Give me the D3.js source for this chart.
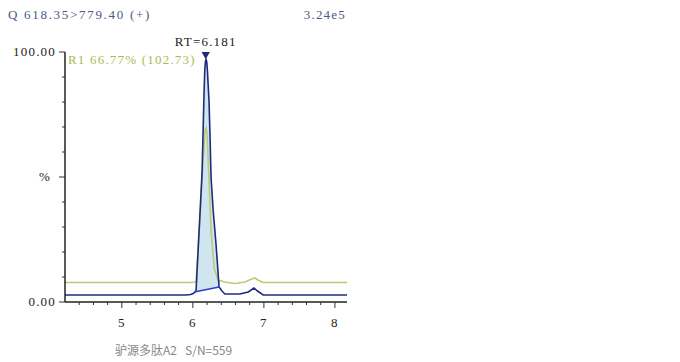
<!DOCTYPE html>
<html>
<head>
<meta charset="utf-8">
<script src="https://cdn.jsdelivr.net/npm/d3@7"></script>
<style>
  body { margin: 0; background: #fff; }
  text { font-family: "Liberation Serif", "DejaVu Serif", serif; letter-spacing: 1.2px; }
</style>
</head>
<body>
<svg width="680" height="362"></svg>
<script>
// trace for transition 618.35 > 779.40, % of 3.24e5
var blueTime = [4.2, 5.9, 5.97, 6.003, 6.045, 6.087, 6.13, 6.144, 6.158, 6.168, 6.178, 6.186, 6.196, 6.206, 6.228, 6.242, 6.256, 6.285, 6.327, 6.369, 6.41, 6.45, 6.66, 6.78, 6.86, 6.91, 6.99, 8.17];
var blueValue = [2.8, 2.8, 3.0, 3.4, 4.4, 28, 52, 68, 84, 93, 96.5, 97, 96, 92, 80, 66, 50, 37, 22.8, 6.0, 4.4, 3.2, 3.2, 4.0, 5.6, 4.4, 2.8, 2.8];

// reference ion trace (R1)
var greenTime = [4.2, 5.96, 6.045, 6.1, 6.144, 6.172, 6.186, 6.2, 6.228, 6.256, 6.3, 6.355, 6.45, 6.59, 6.735, 6.83, 6.876, 6.915, 6.99, 8.17];
var greenValue = [7.8, 7.8, 8.0, 32.8, 56.8, 68.8, 69.6, 66.8, 48.8, 28.8, 13.6, 8.8, 8.0, 7.4, 8.0, 9.2, 9.6, 8.8, 7.8, 7.8];

// integration baseline under the peak
var integTime = [6.02, 6.369];
var integValue = [4.0, 6.0];

var xTicks = [5, 6, 7, 8];
var yLabels = [{v: 100, t: "100.00"}, {v: 50, t: "%"}, {v: 0, t: "0.00"}];

var svg = d3.select("svg");

var x = d3.scaleLinear().domain([4.2, 8.17]).range([65, 347]);
var y = d3.scaleLinear().domain([0, 100]).range([302, 52]);

function pts(ts, vs) { return ts.map(function(t, i) { return [t, vs[i]]; }); }

var line = d3.line().x(function(d) { return x(d[0]); }).y(function(d) { return y(d[1]); });

// fill of integrated peak
var blue = pts(blueTime, blueValue);
var peak = blue.filter(function(d) { return d[0] >= integTime[0] && d[0] <= integTime[1]; });
var base = d3.scaleLinear().domain(integTime).range(integValue);
var fillPts = [[integTime[0], integValue[0]]].concat(peak).concat([[integTime[1], integValue[1]]]);
svg.append("path")
  .attr("d", d3.area()
    .x(function(d) { return x(d[0]); })
    .y0(function(d) { return y(base(d[0])); })
    .y1(function(d) { return y(d[1]); })(fillPts))
  .attr("fill", "#cfe6f1");

svg.append("path")
  .attr("d", line(pts(greenTime, greenValue)))
  .attr("fill", "none").attr("stroke", "#bccb78").attr("stroke-width", 1.6);

svg.append("path")
  .attr("d", line(blue))
  .attr("fill", "none").attr("stroke", "#1f2c7c").attr("stroke-width", 1.6);

svg.append("path")
  .attr("d", line(pts(integTime, integValue)))
  .attr("fill", "none").attr("stroke", "#2a3fd0").attr("stroke-width", 1.5);

// axes
var xAxis = svg.append("g").attr("transform", "translate(0," + y(0) + ")");
xAxis.append("line").attr("x1", x.range()[0]).attr("x2", x.range()[1]).attr("stroke", "#222").attr("stroke-width", 1.5);
xAxis.selectAll(".minor").data(d3.range(4.4, 8.17, 0.2)).enter().append("line")
  .attr("x1", function(d) { return x(d); }).attr("x2", function(d) { return x(d); })
  .attr("y1", 0).attr("y2", function(d) { return Math.abs(d - Math.round(d)) < 0.01 ? 6 : 3; })
  .attr("stroke", "#333");
xAxis.selectAll(".lbl").data(xTicks).enter().append("text")
  .attr("x", function(d) { return x(d); }).attr("y", 25)
  .attr("text-anchor", "middle").attr("font-size", 13).attr("fill", "#222")
  .text(function(d) { return d; });

var yAxis = svg.append("g").attr("transform", "translate(" + x.range()[0] + ",0)");
yAxis.append("line").attr("y1", y(0)).attr("y2", y(100)).attr("stroke", "#222").attr("stroke-width", 1.5);
yAxis.selectAll(".minor").data(d3.range(0, 101, 10)).enter().append("line")
  .attr("y1", function(d) { return y(d); }).attr("y2", function(d) { return y(d); })
  .attr("x1", function(d) { return d % 50 === 0 ? -6 : -3; }).attr("x2", 0)
  .attr("stroke", "#333");
yAxis.selectAll(".lbl").data(yLabels).enter().append("text")
  .attr("x", function(d) { return d.t === "%" ? -14 : -9; }).attr("y", function(d) { return y(d.v) + 4; })
  .attr("text-anchor", "end").attr("font-size", 13).attr("fill", "#222")
  .text(function(d) { return d.t; });

// header & annotations
svg.append("text").attr("x", 8).attr("y", 19).attr("font-size", 13).attr("fill", "#4c5a88")
  .style("letter-spacing", "1.7px").text("Q 618.35>779.40 (+)");
svg.append("text").attr("x", 346).attr("y", 19).attr("font-size", 13).attr("fill", "#4c5a88")
  .attr("text-anchor", "end").text("3.24e5");
svg.append("text").attr("x", x(6.181)).attr("y", 46).attr("font-size", 13).attr("fill", "#222")
  .attr("text-anchor", "middle").text("RT=6.181");
svg.append("path")
  .attr("d", d3.symbol(d3.symbolTriangle, 30)())
  .attr("transform", "translate(" + x(6.181) + "," + y(99) + ") rotate(180)")
  .attr("fill", "#1f2c7c");
svg.append("text").attr("x", 68).attr("y", 64).attr("font-size", 13).attr("fill", "#aabb55")
  .text("R1 66.77% (102.73)");

svg.append("text").attr("x", 115).attr("y", 355).attr("font-size", 12).attr("fill", "#888")
  .style("font-family", "'Noto Sans CJK SC', sans-serif").style("letter-spacing", "0")
  .style("white-space", "pre")
  .text("驴源多肽A2   S/N=559");
</script>
</body>
</html>
